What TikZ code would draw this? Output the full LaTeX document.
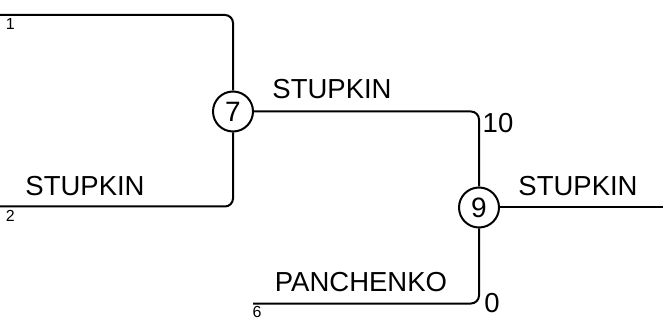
\documentclass[tikz,border=0pt]{standalone}
\usepackage{fontspec}
\setmainfont{Liberation Sans}
\begin{document}
\begin{tikzpicture}[x=1pt,y=-1pt, line width=2pt,
  big/.style={font=\fontsize{27.5}{30}\selectfont, inner sep=0pt},
  small/.style={font=\fontsize{16}{18}\selectfont, inner sep=0pt},
  game/.style={circle, draw, line width=2pt, minimum size=40pt, inner sep=0pt, font=\fontsize{28}{30}\selectfont},
  link/.style={rounded corners=8pt}]
\useasboundingbox (0,0) rectangle (663,320);
\node[game] (n7) at (233,111.5) {7};
\node[game] (n9) at (479,207.5) {9};
\coordinate (p1) at (0,15);
\coordinate (p2) at (0,206.5);
\coordinate (p6) at (253,303.5);
\coordinate (out) at (663,207.5);
\draw[link] (p1) -| (n7.north);
\draw[link] (p2) -| (n7.south);
\draw[link] (n7.east) -| (n9.north);
\draw[link] (p6) -| (n9.south);
\draw (n9.east) -- (out);
\node[small] (l1) at (10.3,24) {1};
\node[small] (l2) at (10.3,216) {2};
\node[small] (l6) at (257,311.5) {6};
\node[big] (s1) at (85,186) {STUPKIN};
\node[big] (s2) at (332,89) {STUPKIN};
\node[big] (s3) at (578,186) {STUPKIN};
\node[big] (pa) at (361,282) {PANCHENKO};
\node[big] (t10) at (498,123) {10};
\node[big] (t0) at (492,303) {0};
\end{tikzpicture}
\end{document}
